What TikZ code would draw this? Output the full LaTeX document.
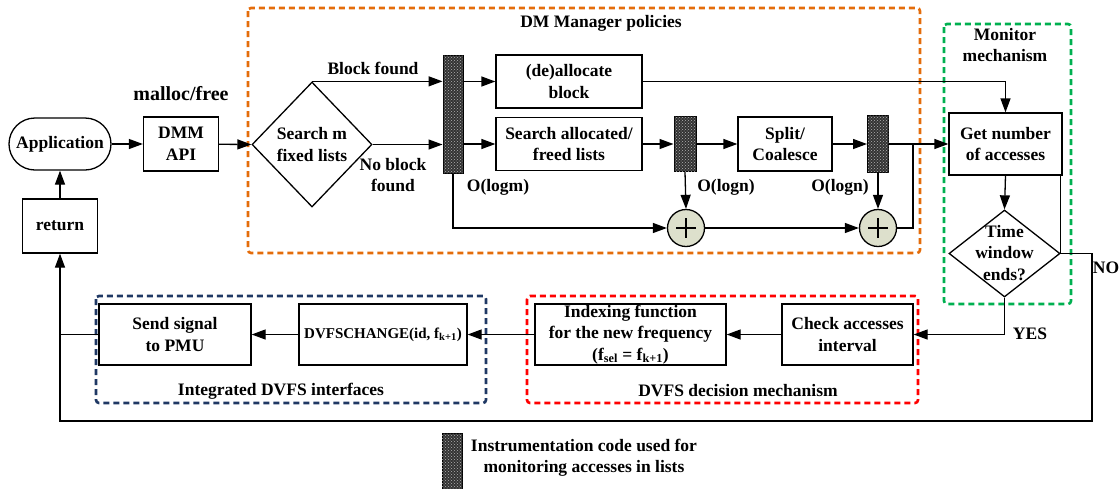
\documentclass[tikz,border=0pt]{standalone}
\usepackage{fontspec}
\setmainfont{Liberation Serif}
\usetikzlibrary{arrows.meta,shapes.geometric,patterns}
\definecolor{dmorange}{RGB}{228,108,10}
\definecolor{mongreen}{RGB}{0,176,80}
\definecolor{decred}{RGB}{255,0,0}
\definecolor{intblue}{RGB}{31,56,100}
\definecolor{plusfill}{RGB}{221,224,204}
\begin{document}
\begin{tikzpicture}[x=1pt,y=-1pt,
  font=\bfseries\fontsize{17.5}{21.5}\selectfont,
  box/.style={draw, line width=1.3pt, inner sep=0pt, align=center},
  lbl/.style={inner sep=0pt, align=center},
  bar/.style={draw, line width=1pt, fill=black!80, postaction={pattern=crosshatch dots, pattern color=white!70!black}, inner sep=0pt},
  ln/.style={line width=1.3pt},
  arr/.style={line width=1.3pt, -{Triangle[length=14pt,width=10pt]}},
  grp/.style={line width=2.6pt, dash pattern=on 6pt off 4pt, rounded corners=3pt},
  dia/.style={diamond, draw, line width=1.3pt, inner sep=0pt, aspect=1},
  plusnode/.style={circle, draw, line width=1.3pt, fill=plusfill, minimum size=37pt, inner sep=0pt,
    path picture={\draw[line width=1.3pt] (path picture bounding box.center) ++(-10,0) -- ++(20,0);
                  \draw[line width=1.3pt] (path picture bounding box.center) ++(0,-10) -- ++(0,20);}}
]
\useasboundingbox (0,0) rectangle (1119,488);

% group frames
\draw[grp, dmorange] (248,8) rectangle (920,253);
\draw[grp, mongreen] (944,24) rectangle (1071,304);
\draw[grp, decred] (527,296) rectangle (918,403);
\draw[grp, intblue] (96,296) rectangle (486,403);

\node[lbl] (tdm) at (601,23) {DM Manager policies};
\node[lbl] (tmon) at (1005,45) {Monitor\\mechanism};
\node[lbl] (tdec) at (738,391) {DVFS decision mechanism};
\node[lbl] (tint) at (281,391) {Integrated DVFS interfaces};

% nodes
\node[box, rounded corners=26pt, minimum width=102pt, minimum height=52pt] (app) at (60,144) {Application};
\node[box, minimum width=75pt, minimum height=54pt] (dmm) at (181,144) {DMM\\API};
\node[lbl, font=\bfseries\fontsize{20}{24}\selectfont] (malloc) at (181,94) {malloc/free};
\node[box, minimum width=75pt, minimum height=54pt] (ret) at (60,226) {return};

\node[dia, minimum width=120pt, minimum height=125pt] (srch) at (312,144.5) {};
\node[lbl] (srcht) at (srch) {Search m\\fixed lists};

\node[bar, minimum width=20pt, minimum height=118pt] (bar1) at (453,114) {};
\node[box, minimum width=146pt, minimum height=53pt] (dealloc) at (569,81.5) {(de)allocate\\block};
\node[box, minimum width=146pt, minimum height=53pt] (salloc) at (569,144) {Search allocated/\\freed lists};
\node[bar, minimum width=22pt, minimum height=55pt] (bar2) at (685,144) {};
\node[box, minimum width=94pt, minimum height=54pt] (split) at (785,144) {Split/\\Coalesce};
\node[bar, minimum width=21pt, minimum height=57pt] (bar3) at (878,144) {};
\node[box, minimum width=113pt, minimum height=62pt] (get) at (1005.5,144) {Get number\\of accesses};
\coordinate (j) at (913,144);

\node[plusnode] (p1) at (686,228) {};
\node[plusnode] (p2) at (878,228) {};

\node[lbl] (lbf) at (373,68) {Block found};
\node[lbl] (lnbf) at (393,175) {No block\\found};
\node[lbl] (lom) at (498,187) {O(logm)};
\node[lbl] (lon1) at (726,187) {O(logn)};
\node[lbl] (lon2) at (840,187) {O(logn)};

\node[dia, minimum width=111pt, minimum height=87pt] (tw) at (1004.5,253.5) {};
\node[lbl] (twt) at (1004.5,253) {Time\\window\\ends?};
\node[lbl] (lno) at (1106,268) {NO};
\node[lbl] (lyes) at (1030,334) {YES};

\node[box, minimum width=131pt, minimum height=61pt] (check) at (847.5,334.5) {Check accesses\\interval};
\node[box, minimum width=191pt, minimum height=61pt] (idx) at (630.5,334.5) {Indexing function\\for the new frequency\\(f\textsubscript{sel} = f\textsubscript{k+1})};
\node[box, minimum width=168pt, minimum height=61pt, font=\bfseries\fontsize{15}{18}\selectfont] (dvfs) at (383,334.5) {DVFSCHANGE(id, f\textsubscript{k+1})};
\node[box, minimum width=152pt, minimum height=61pt] (send) at (175,334.5) {Send signal\\to PMU};

\coordinate (c3) at (1092,253.5);
\coordinate (c2) at (1092,421);
\coordinate (c1) at (60,421);

% legend
\node[bar, minimum width=20pt, minimum height=60pt] (lbar) at (452,463) {};
\node[lbl] (ltxt) at (584,458) {Instrumentation code used for\\monitoring accesses in lists};

% connectors
\draw[arr] (app) -- (dmm);
\draw[arr] (dmm) -- (srch.west);
\draw[arr] (ret) -- (app);
\draw[arr] (srch.north) -- (srch.north -| bar1.west);
\draw[arr] (srch.east) -- (srch.east -| bar1.west);
\draw[arr] (bar1.east |- dealloc) -- (dealloc.west);
\draw[arr] (bar1.east |- salloc) -- (salloc.west);
\draw[arr] (salloc) -- (bar2);
\draw[arr] (bar2) -- (split);
\draw[arr] (split) -- (bar3);
\draw[arr] (bar3) -- (get);
\draw[arr] (bar1.south) |- (p1.west);
\draw[arr] (bar2.south) -- (p1.north);
\draw[arr] (p1) -- (p2);
\draw[arr] (bar3.south) -- (p2.north);
\draw[ln] (p2.east) -| (j);
\draw[arr] (dealloc.east) -| (get.north);
\draw[arr] (get.south) -- (tw.north);
\draw[ln] (tw.east) -- (tw.east |- get.south);
\draw[arr] (tw.east) -- (c3) -- (c2) -- (c1) -- (ret.south);
\draw[arr] (tw.south) |- (check.east);
\draw[arr] (check) -- (idx);
\draw[arr] (idx) -- (dvfs);
\draw[arr] (dvfs) -- (send);
\draw[ln] (send.west) -- (send.west -| c1);
\end{tikzpicture}
\end{document}
